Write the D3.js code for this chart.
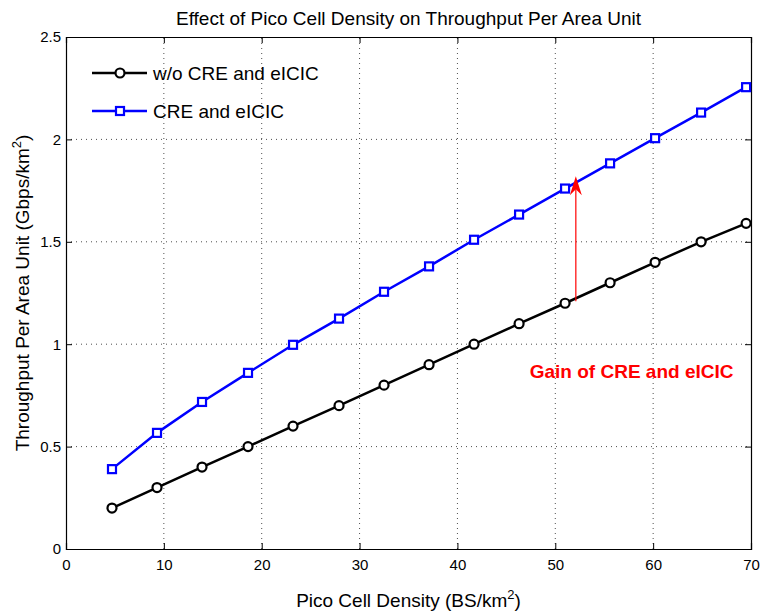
<!DOCTYPE html>
<html><head><meta charset="utf-8">
<script src="https://cdn.jsdelivr.net/npm/d3@7"></script>
<style>body{margin:0;background:#fff;font-family:"Liberation Sans",Arial,sans-serif;}</style>
</head><body>
<script>
const density = [4.7, 9.3, 13.9, 18.6, 23.2, 27.9, 32.5, 37.1, 41.7, 46.3, 51.0, 55.6, 60.2, 64.9, 69.5];
const withoutCRE = [0.20, 0.30, 0.40, 0.50, 0.60, 0.70, 0.80, 0.90, 1.00, 1.10, 1.20, 1.30, 1.40, 1.50, 1.59];
const withCRE = [0.39, 0.567, 0.718, 0.86, 0.997, 1.125, 1.256, 1.38, 1.51, 1.633, 1.76, 1.883, 2.006, 2.131, 2.255];
const xTicks = [0,10,20,30,40,50,60,70];
const yTicks = [0,0.5,1,1.5,2,2.5];
const seriesNames = ["w/o CRE and eICIC", "CRE and eICIC"];
const annotation = {x: 52.1, y0: 1.21, y1: 1.82, label: "Gain of CRE and eICIC"};

const W=763,H=613, m={l:66,r:12,t:37,b:64};
const svg=d3.select("body").append("svg").attr("width",W).attr("height",H);
const x=d3.scaleLinear().domain([0,70]).range([m.l,W-m.r]);
const y=d3.scaleLinear().domain([0,2.5]).range([H-m.b,m.t]);

// grid
const g=svg.append("g");
xTicks.slice(1,-1).forEach(t=>g.append("line").attr("x1",x(t)).attr("x2",x(t)).attr("y1",y(0)).attr("y2",y(2.5)).attr("stroke","#000").attr("stroke-width",0.7).attr("stroke-dasharray","1,4"));
yTicks.slice(1,-1).forEach(t=>g.append("line").attr("x1",x(0)).attr("x2",x(70)).attr("y1",y(t)).attr("y2",y(t)).attr("stroke","#000").attr("stroke-width",0.7).attr("stroke-dasharray","1,4"));

// axes
const fs="15px";
const xa=svg.append("g").attr("transform",`translate(0,${y(0)})`).call(d3.axisBottom(x).tickValues(xTicks).tickSize(-6).tickPadding(10).tickFormat(d3.format("d")));
const xt=svg.append("g").attr("transform",`translate(0,${y(2.5)})`).call(d3.axisTop(x).tickValues(xTicks).tickSize(-6).tickFormat(""));
const ya=svg.append("g").attr("transform",`translate(${x(0)},0)`).call(d3.axisLeft(y).tickValues(yTicks).tickSize(-6).tickPadding(5).tickFormat(d=>String(d)));
const yr=svg.append("g").attr("transform",`translate(${x(70)},0)`).call(d3.axisRight(y).tickValues(yTicks).tickSize(-6).tickFormat(""));
[xa,xt,ya,yr].forEach(a=>{a.select(".domain").attr("stroke","#000").attr("stroke-width",1.2);a.selectAll(".tick line").attr("stroke","#000");a.selectAll("text").attr("font-size",fs).attr("font-family","Liberation Sans, Arial, sans-serif").attr("fill","#000");});

// lines
const line=d3.line().x((d,i)=>x(density[i])).y(d=>y(d));
svg.append("path").datum(withoutCRE).attr("d",line).attr("fill","none").attr("stroke","#000").attr("stroke-width",2.5);
svg.append("path").datum(withCRE).attr("d",line).attr("fill","none").attr("stroke","#0000ff").attr("stroke-width",2.5);
svg.selectAll(".c").data(withoutCRE).enter().append("circle").attr("cx",(d,i)=>x(density[i])).attr("cy",d=>y(d)).attr("r",4.5).attr("fill","#fff").attr("stroke","#000").attr("stroke-width",2.2);
svg.selectAll(".s").data(withCRE).enter().append("rect").attr("x",(d,i)=>x(density[i])-4).attr("y",d=>y(d)-4).attr("width",8).attr("height",8).attr("fill","#fff").attr("stroke","#0000ff").attr("stroke-width",2.2);

// annotation arrow
const ax=x(annotation.x), ay0=y(annotation.y0), ay1=y(annotation.y1);
svg.append("line").attr("x1",ax).attr("x2",ax).attr("y1",ay0).attr("y2",ay1+12).attr("stroke","#ff0000").attr("stroke-width",1.2);
svg.append("path").attr("d",`M${ax},${ay1} L${ax-6},${ay1+19} L${ax},${ay1+13} L${ax+6},${ay1+19} Z`).attr("fill","#ff0000");
svg.append("text").attr("x",x(57.8)).attr("y",y(0.835)).attr("text-anchor","middle").attr("font-size","19px").attr("font-weight","bold").attr("fill","#ff0000").text(annotation.label);

// legend
const leg=[{y:73,c:"#000",m:"c"},{y:111,c:"#0000ff",m:"s"}];
leg.forEach((L,i)=>{
  svg.append("line").attr("x1",92).attr("x2",147).attr("y1",L.y).attr("y2",L.y).attr("stroke",L.c).attr("stroke-width",2.5);
  if(L.m==="c") svg.append("circle").attr("cx",120).attr("cy",L.y).attr("r",4.5).attr("fill","#fff").attr("stroke",L.c).attr("stroke-width",2.2);
  else svg.append("rect").attr("x",116).attr("y",L.y-4).attr("width",8).attr("height",8).attr("fill","#fff").attr("stroke",L.c).attr("stroke-width",2.2);
  svg.append("text").attr("x",153).attr("y",L.y+7).attr("font-size","19px").attr("fill","#000").text(seriesNames[i]);
});

// titles
svg.append("text").attr("x",(x(0)+x(70))/2).attr("y",25).attr("text-anchor","middle").attr("font-size","19px").text("Effect of Pico Cell Density on Throughput Per Area Unit");
const xl=svg.append("text").attr("x",(x(0)+x(70))/2).attr("y",607).attr("text-anchor","middle").attr("font-size","19px");
xl.append("tspan").text("Pico Cell Density (BS/km");
xl.append("tspan").attr("dy",-8).attr("font-size","13px").text("2");
xl.append("tspan").attr("dy",8).text(")");
const yl=svg.append("text").attr("transform",`translate(29,${(y(0)+y(2.5))/2}) rotate(-90)`).attr("text-anchor","middle").attr("font-size","19px");
yl.append("tspan").text("Throughput Per Area Unit (Gbps/km");
yl.append("tspan").attr("dy",-8).attr("font-size","13px").text("2");
yl.append("tspan").attr("dy",8).text(")");
</script>
</body></html>
